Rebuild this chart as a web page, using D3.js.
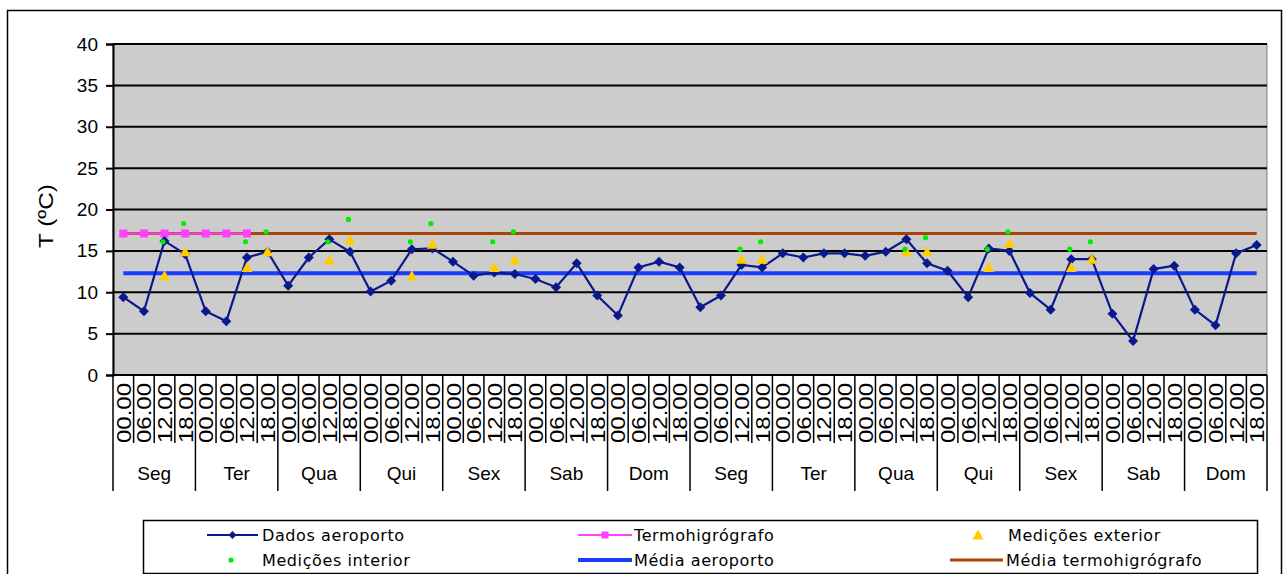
<!DOCTYPE html>
<html><head><meta charset="utf-8">
<script src="https://cdn.jsdelivr.net/npm/d3@7"></script>
<style>html,body{margin:0;padding:0;background:#fff;}svg{display:block;}</style>
</head><body>
<svg id="c" width="1284" height="574"></svg>
<script>
const days = ["Seg","Ter","Qua","Qui","Sex","Sab","Dom","Seg","Ter","Qua","Qui","Sex","Sab","Dom"];
const hours = ["00.00","06.00","12.00","18.00"];
const yTicks = [0,5,10,15,20,25,30,35,40];
const dadosAeroporto = [9.4,7.7,16.2,14.6,7.7,6.5,14.2,14.9,10.8,14.2,16.4,14.9,10.1,11.4,
  15.2,15.3,13.7,12.0,12.4,12.2,11.6,10.6,13.5,9.6,7.2,13.0,13.7,13.0,
  8.2,9.6,13.3,13.0,14.7,14.2,14.7,14.7,14.4,14.9,16.4,13.5,12.6,9.4,
  15.3,15.0,9.9,7.9,14.0,14.0,7.4,4.1,12.8,13.2,7.9,6.0,14.7,15.7];
const termoIdx = [0,1,2,3,4,5,6];
const termoVals = [17.1,17.1,17.1,17.1,17.1,17.1,17.1];
const extIdx = [2,3,6,7,10,11,14,15,18,19,30,31,38,39,42,43,46,47];
const extVals = [12.0,14.9,13.0,14.9,13.9,16.3,12.0,15.8,13.0,13.9,14.0,14.0,14.9,14.9,13.0,15.9,13.0,14.0];
const intIdx = [2,3,6,7,10,11,14,15,18,19,30,31,38,39,42,43,46,47];
const intVals = [16.1,18.3,16.1,17.3,16.1,18.8,16.1,18.3,16.1,17.3,15.2,16.1,15.2,16.6,15.2,17.3,15.2,16.1];
const mediaAeroporto = 12.3;
const mediaTermo = 17.1;

const svg = d3.select("#c");
const L = 113, R = 1267, T = 44, B = 375;
const n = days.length * hours.length;
const cats = d3.range(n);
const x = d3.scaleBand().domain(cats).range([L, R]).padding(0);
const xc = i => x(i) + x.bandwidth()/2;
const y = d3.scaleLinear().domain([0,40]).range([B, T]);
const ff = "Liberation Sans, Arial, sans-serif";

// outer border
svg.append("rect").attr("x",7.5).attr("y",10.5).attr("width",1274).attr("height",580)
  .attr("fill","none").attr("stroke","#000").attr("stroke-width",1.5);

// plot background
svg.append("rect").attr("x",L).attr("y",T).attr("width",R-L).attr("height",B-T).attr("fill","#cccccc")
  .attr("stroke","#808080").attr("stroke-width",1);

// gridlines
svg.append("g").selectAll("line").data(yTicks.filter(v=>v>0)).join("line")
  .attr("x1",L).attr("x2",R).attr("y1",d=>y(d)).attr("y2",d=>y(d))
  .attr("stroke","#000").attr("stroke-width",2);

// y axis
const yAxis = d3.axisLeft(y).tickValues(yTicks).tickSize(7).tickPadding(8);
const gy = svg.append("g").attr("transform",`translate(${L},0)`).call(yAxis);
gy.select(".domain").attr("stroke","#000").attr("stroke-width",2);
gy.selectAll(".tick line").attr("stroke","#000").attr("stroke-width",2);
gy.selectAll(".tick text").attr("font-family",ff).attr("font-size",19).attr("fill","#000");

svg.append("text").attr("transform",`translate(46,216) rotate(-90)`)
  .attr("text-anchor","middle").attr("dominant-baseline","central").attr("font-family",ff)
  .attr("font-size",20).attr("textLength",64).attr("lengthAdjust","spacingAndGlyphs").text("T (ºC)");

// x axis baseline
svg.append("line").attr("x1",L).attr("x2",R).attr("y1",B).attr("y2",B).attr("stroke","#000").attr("stroke-width",2);

// category separators
const gx = svg.append("g");
gx.selectAll("line.sep").data(d3.range(n+1)).join("line")
  .attr("x1",i=> i<n ? x(i) : R).attr("x2",i=> i<n ? x(i) : R)
  .attr("y1",B).attr("y2",i=> i % 4 === 0 ? 491 : 443)
  .attr("stroke","#000").attr("stroke-width",1.5);
gx.selectAll("text.h").data(cats).join("text")
  .attr("transform",i=>`translate(${xc(i)+0.5},443) rotate(-90)`)
  .attr("dominant-baseline","central")
  .attr("font-family",ff).attr("font-size",20)
  .attr("textLength",60).attr("lengthAdjust","spacingAndGlyphs")
  .text(i=>hours[i%4]);
gx.selectAll("text.d").data(days).join("text")
  .attr("x",(d,k)=> (x(k*4) + (k*4+4<n ? x(k*4+4) : R))/2).attr("y",480)
  .attr("text-anchor","middle").attr("font-family",ff).attr("font-size",19)
  .text(d=>d);

// Média lines
svg.append("line").attr("x1",xc(0)).attr("x2",xc(n-1)).attr("y1",y(mediaAeroporto)).attr("y2",y(mediaAeroporto))
  .attr("stroke","#1a3cff").attr("stroke-width",4);
svg.append("line").attr("x1",xc(0)).attr("x2",xc(n-1)).attr("y1",y(mediaTermo)).attr("y2",y(mediaTermo))
  .attr("stroke","#a84406").attr("stroke-width",3);

// Termohigrografo
svg.append("path").datum(termoIdx).attr("fill","none").attr("stroke","#ff40ff").attr("stroke-width",2)
  .attr("d",d3.line().x(i=>xc(i)).y((i,k)=>y(termoVals[k])));
svg.append("g").selectAll("rect").data(termoIdx).join("rect")
  .attr("x",i=>xc(i)-4).attr("y",(i,k)=>y(termoVals[k])-4).attr("width",8).attr("height",8).attr("fill","#ff40ff");

// Dados aeroporto
svg.append("path").datum(dadosAeroporto).attr("fill","none").attr("stroke","#0a1a8c").attr("stroke-width",2.2)
  .attr("d",d3.line().x((d,i)=>xc(i)).y(d=>y(d)));
const diamond = (cx,cy,r)=>`M${cx},${cy-r}L${cx+r},${cy}L${cx},${cy+r}L${cx-r},${cy}Z`;
svg.append("g").selectAll("path").data(dadosAeroporto).join("path")
  .attr("d",(d,i)=>diamond(xc(i),y(d),5)).attr("fill","#0a1a8c");

// Medições exterior
const tri = (cx,cy)=>`M${cx},${cy-5.5}L${cx+5.5},${cy+4.5}L${cx-5.5},${cy+4.5}Z`;
svg.append("g").selectAll("path").data(extIdx).join("path")
  .attr("d",(i,k)=>tri(xc(i),y(extVals[k]))).attr("fill","#ffcc00");

// Medições interior
svg.append("g").selectAll("circle").data(intIdx).join("circle")
  .attr("cx",i=>xc(i)-1.5).attr("cy",(i,k)=>y(intVals[k])).attr("r",2.6).attr("fill","#00ee00");

// Legend
svg.append("rect").attr("x",143.5).attr("y",520.5).attr("width",1114).attr("height",53)
  .attr("fill","#fff").attr("stroke","#000").attr("stroke-width",1.5);
const legend = [
  {label:"Dados aeroporto", x1:207, x2:258, tx:262, y:535, type:"diamond", color:"#0a1a8c"},
  {label:"Termohigrógrafo", x1:578, x2:632, tx:634, y:535, type:"square", color:"#ff40ff"},
  {label:"Medições exterior", x1:null, mx:978, tx:1008, y:535, type:"tri", color:"#ffcc00"},
  {label:"Medições interior", x1:null, mx:231, tx:262, y:560, type:"dot", color:"#00ee00"},
  {label:"Média aeroporto", x1:578, x2:632, tx:634, y:560, type:"thick", color:"#1a3cff"},
  {label:"Média termohigrógrafo", x1:950, x2:1003, tx:1006, y:560, type:"brown", color:"#a84406"}
];
const lg = svg.append("g");
legend.forEach(l=>{
  if (l.x1 !== null) {
    lg.append("line").attr("x1",l.x1).attr("x2",l.x2).attr("y1",l.y).attr("y2",l.y)
      .attr("stroke",l.color).attr("stroke-width", l.type==="thick"?4:(l.type==="brown"?3:2));
  }
  const mx = l.x1!==null ? (l.x1+l.x2)/2 : l.mx;
  if (l.type==="diamond") lg.append("path").attr("d",diamond(mx,l.y,4)).attr("fill",l.color);
  if (l.type==="square") lg.append("rect").attr("x",mx-3.5).attr("y",l.y-3.5).attr("width",7).attr("height",7).attr("fill",l.color);
  if (l.type==="tri") lg.append("path").attr("d",tri(mx,l.y)).attr("fill",l.color);
  if (l.type==="dot") lg.append("circle").attr("cx",mx).attr("cy",l.y).attr("r",2.6).attr("fill",l.color);
  lg.append("text").attr("x",l.tx).attr("y",l.y).attr("dominant-baseline","central")
    .attr("font-family","DejaVu Sans, sans-serif").attr("font-size",16).attr("letter-spacing",0.6).text(l.label);
});
</script>
</body></html>
